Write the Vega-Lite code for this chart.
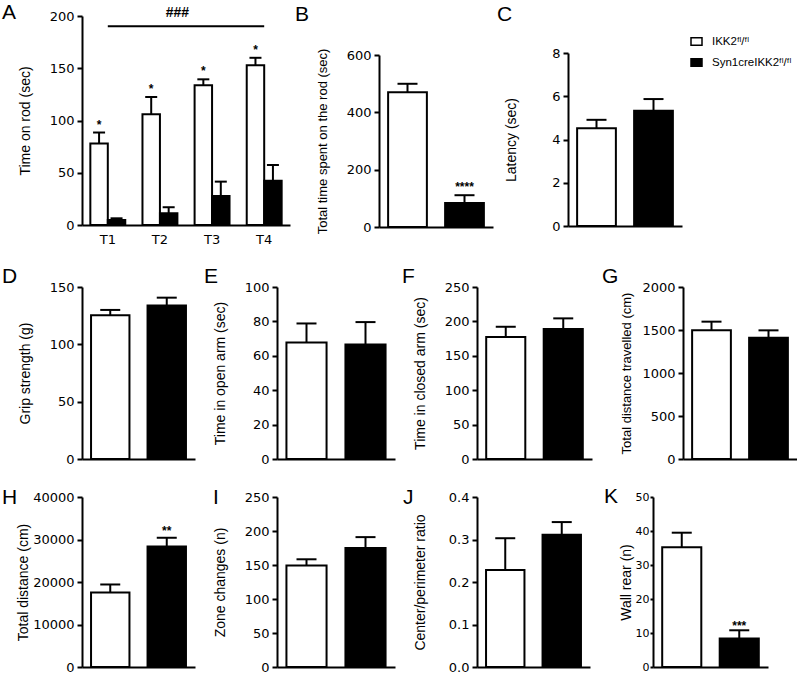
{
  "$schema": "https://vega.github.io/schema/vega-lite/v6.json",
  "background": "white",
  "padding": {"left": 2, "top": 2, "right": 0, "bottom": 0},
  "config": {
    "font": "Liberation Sans",
    "view": {"stroke": null},
    "axis": {"domainColor": "black", "domainWidth": 2, "tickColor": "black", "tickWidth": 2, "tickSize": 5, "tickCount": 20, "labelFont": "DejaVu Sans", "labelFontSize": 13, "labelColor": "black", "labelPadding": 3, "labelOverlap": false, "titleFont": "Liberation Sans", "titleFontSize": 14, "titleFontWeight": "normal", "titleColor": "black", "grid": false},
    "axisY": {"minExtent": 47, "maxExtent": 47, "titlePadding": 3},
    "axisX": {"labels": false, "ticks": false, "title": null},
    "title": {"font": "Liberation Sans", "fontSize": 21, "fontWeight": "normal", "anchor": "start", "frame": "bounds", "baseline": "alphabetic", "color": "black"}
  },
  "datasets": {
    "A": [
      {"t": "T1", "g": "IKK2ᶠˡ/ᶠˡ", "m": 78, "hi": 88.5, "s": "*"},
      {"t": "T1", "g": "Syn1creIKK2ᶠˡ/ᶠˡ", "m": 4.8, "hi": 6.4, "s": ""},
      {"t": "T2", "g": "IKK2ᶠˡ/ᶠˡ", "m": 106, "hi": 122.5, "s": "*"},
      {"t": "T2", "g": "Syn1creIKK2ᶠˡ/ᶠˡ", "m": 11.2, "hi": 17, "s": ""},
      {"t": "T3", "g": "IKK2ᶠˡ/ᶠˡ", "m": 133.7, "hi": 139.4, "s": "*"},
      {"t": "T3", "g": "Syn1creIKK2ᶠˡ/ᶠˡ", "m": 27.8, "hi": 41.5, "s": ""},
      {"t": "T4", "g": "IKK2ᶠˡ/ᶠˡ", "m": 152.8, "hi": 160, "s": "*"},
      {"t": "T4", "g": "Syn1creIKK2ᶠˡ/ᶠˡ", "m": 42.4, "hi": 57.4, "s": ""}
    ],
    "Ann": [{"a": "T1", "b": "T4", "c": "T2", "v": 190.3, "v2": 202.6, "lab": "###"}],
    "B": [{"g": "IKK2ᶠˡ/ᶠˡ", "m": 470.4, "hi": 499.6, "s": ""}, {"g": "Syn1creIKK2ᶠˡ/ᶠˡ", "m": 84, "hi": 110.9, "s": "****"}],
    "C": [{"g": "IKK2ᶠˡ/ᶠˡ", "m": 4.52, "hi": 4.91}, {"g": "Syn1creIKK2ᶠˡ/ᶠˡ", "m": 5.33, "hi": 5.87}],
    "D": [{"g": "IKK2ᶠˡ/ᶠˡ", "m": 125.4, "hi": 130}, {"g": "Syn1creIKK2ᶠˡ/ᶠˡ", "m": 133.8, "hi": 140.7}],
    "E": [{"g": "IKK2ᶠˡ/ᶠˡ", "m": 67.8, "hi": 78.8}, {"g": "Syn1creIKK2ᶠˡ/ᶠˡ", "m": 66.6, "hi": 79.6}],
    "F": [{"g": "IKK2ᶠˡ/ᶠˡ", "m": 177.2, "hi": 192.2}, {"g": "Syn1creIKK2ᶠˡ/ᶠˡ", "m": 188.8, "hi": 204.4}],
    "G": [{"g": "IKK2ᶠˡ/ᶠˡ", "m": 1496, "hi": 1597}, {"g": "Syn1creIKK2ᶠˡ/ᶠˡ", "m": 1411, "hi": 1496}],
    "H": [{"g": "IKK2ᶠˡ/ᶠˡ", "m": 17544, "hi": 19415, "s": ""}, {"g": "Syn1creIKK2ᶠˡ/ᶠˡ", "m": 28382, "hi": 30409, "s": "**"}],
    "I": [{"g": "IKK2ᶠˡ/ᶠˡ", "m": 149.1, "hi": 158.4}, {"g": "Syn1creIKK2ᶠˡ/ᶠˡ", "m": 175, "hi": 191}],
    "J": [{"g": "IKK2ᶠˡ/ᶠˡ", "m": 0.228, "hi": 0.303}, {"g": "Syn1creIKK2ᶠˡ/ᶠˡ", "m": 0.311, "hi": 0.341}],
    "K": [{"g": "IKK2ᶠˡ/ᶠˡ", "m": 35.2, "hi": 39.5, "s": ""}, {"g": "Syn1creIKK2ᶠˡ/ᶠˡ", "m": 8.4, "hi": 10.8, "s": "***"}]
  },
  "resolve": {"scale": {"x": "independent", "y": "independent", "fill": "independent"}, "legend": {"fill": "independent"}},
  "spacing": 19,
  "vconcat": [
    {
      "spacing": 89,
      "bounds": "flush",
      "resolve": {"scale": {"x": "independent", "y": "independent", "fill": "independent"}, "legend": {"fill": "independent"}},
      "hconcat": [
        {
          "width": 208, "height": 209,
          "title": {"text": "A", "dx": -16, "offset": -17},
          "layer": [
            {"data": {"name": "A"}, "mark": {"type": "bar", "stroke": "black", "strokeWidth": 2},
             "encoding": {
               "x": {"field": "t", "type": "nominal", "scale": {"paddingInner": 0.33, "paddingOuter": 0.16}, "axis": {"labels": true, "labelAngle": 0, "labelPadding": 8, "title": null, "ticks": false}},
               "xOffset": {"field": "g", "type": "nominal", "sort": ["IKK2ᶠˡ/ᶠˡ", "Syn1creIKK2ᶠˡ/ᶠˡ"], "scale": {"paddingInner": 0, "paddingOuter": 0}},
               "y": {"field": "m", "type": "quantitative", "scale": {"domain": [0, 200], "nice": false}, "axis": {"title": "Time on rod (sec)", "format": "d", "values": [0, 50, 100, 150, 200]}},
               "fill": {"field": "g", "type": "nominal", "scale": {"domain": ["IKK2ᶠˡ/ᶠˡ", "Syn1creIKK2ᶠˡ/ᶠˡ"], "range": ["white", "black"]}, "legend": null}
             }},
            {"data": {"name": "A"}, "mark": {"type": "rule", "strokeWidth": 2, "color": "black"},
             "encoding": {
               "x": {"field": "t", "type": "nominal"},
               "xOffset": {"field": "g", "type": "nominal", "sort": ["IKK2ᶠˡ/ᶠˡ", "Syn1creIKK2ᶠˡ/ᶠˡ"]},
               "y": {"field": "m", "type": "quantitative"}, "y2": {"field": "hi"}
             }},
            {"data": {"name": "A"}, "mark": {"type": "tick", "thickness": 2, "size": 12, "color": "black", "opacity": 1},
             "encoding": {
               "x": {"field": "t", "type": "nominal"},
               "xOffset": {"field": "g", "type": "nominal", "sort": ["IKK2ᶠˡ/ᶠˡ", "Syn1creIKK2ᶠˡ/ᶠˡ"]},
               "y": {"field": "hi", "type": "quantitative"}
             }},
            {"data": {"name": "A"}, "mark": {"type": "text", "dy": -4, "fontSize": 12, "fontWeight": "bold", "baseline": "alphabetic", "color": "black"},
             "encoding": {
               "x": {"field": "t", "type": "nominal"},
               "xOffset": {"field": "g", "type": "nominal", "sort": ["IKK2ᶠˡ/ᶠˡ", "Syn1creIKK2ᶠˡ/ᶠˡ"]},
               "y": {"field": "hi", "type": "quantitative"},
               "text": {"field": "s"}
             }},
            {"data": {"name": "Ann"}, "mark": {"type": "rule", "strokeWidth": 2, "color": "black"},
             "encoding": {
               "x": {"field": "a", "type": "nominal"}, "x2": {"field": "b"},
               "y": {"field": "v", "type": "quantitative"}
             }},
            {"data": {"name": "Ann"}, "mark": {"type": "text", "fontSize": 14, "fontWeight": "bold", "baseline": "middle", "color": "black"},
             "encoding": {
               "x": {"field": "c", "type": "nominal", "bandPosition": 1},
               "y": {"field": "v2", "type": "quantitative"},
               "text": {"field": "lab"}
             }}
          ]
        },
        {
          "width": 100, "height": 211,
          "title": {"text": "B", "dx": -21, "offset": -9},
          "data": {"name": "B"},
          "encoding": {"x": {"field": "g", "type": "nominal", "sort": ["IKK2ᶠˡ/ᶠˡ", "Syn1creIKK2ᶠˡ/ᶠˡ"], "scale": {"range": [0, 114], "paddingInner": 0.32, "paddingOuter": 0.16}}},
          "layer": [
            {"mark": {"type": "bar", "stroke": "black", "strokeWidth": 2},
             "encoding": {
               "y": {"field": "m", "type": "quantitative", "scale": {"domain": [0, 600], "nice": false, "range": [211, 39]}, "axis": {"title": "Total time spent on the rod (sec)", "titleFontSize": 13, "format": "d", "values": [0, 200, 400, 600]}},
               "fill": {"field": "g", "type": "nominal", "scale": {"domain": ["IKK2ᶠˡ/ᶠˡ", "Syn1creIKK2ᶠˡ/ᶠˡ"], "range": ["white", "black"]}, "legend": null}
             }},
            {"mark": {"type": "rule", "strokeWidth": 2, "color": "black"}, "encoding": {"y": {"field": "m", "type": "quantitative"}, "y2": {"field": "hi"}}},
            {"mark": {"type": "tick", "thickness": 2, "size": 20, "color": "black", "opacity": 1}, "encoding": {"y": {"field": "hi", "type": "quantitative"}}},
            {"mark": {"type": "text", "dy": -4, "fontSize": 12, "fontWeight": "bold", "baseline": "alphabetic", "color": "black"}, "encoding": {"y": {"field": "hi", "type": "quantitative"}, "text": {"field": "s"}}}
          ]
        },
        {
          "width": 114, "height": 210,
          "title": {"text": "C", "dx": -7, "offset": -9},
          "data": {"name": "C"},
          "encoding": {"x": {"field": "g", "type": "nominal", "sort": ["IKK2ᶠˡ/ᶠˡ", "Syn1creIKK2ᶠˡ/ᶠˡ"], "scale": {"paddingInner": 0.32, "paddingOuter": 0.16}}},
          "layer": [
            {"mark": {"type": "bar", "stroke": "black", "strokeWidth": 2},
             "encoding": {
               "y": {"field": "m", "type": "quantitative", "scale": {"domain": [0, 8], "nice": false, "range": [210, 37]}, "axis": {"title": "Latency (sec)", "format": "d", "values": [0, 2, 4, 6, 8]}},
               "fill": {"field": "g", "type": "nominal", "scale": {"domain": ["IKK2ᶠˡ/ᶠˡ", "Syn1creIKK2ᶠˡ/ᶠˡ"], "range": ["white", "black"]},
                        "legend": {"orient": "none", "legendX": 122, "legendY": 19, "direction": "vertical", "title": null, "padding": 0, "symbolType": "M-1,-0.7H1V0.7H-1Z", "symbolSize": 121, "symbolStrokeColor": "black", "symbolStrokeWidth": 1.5, "labelFont": "Liberation Sans", "labelFontSize": 11.5, "labelColor": "black", "rowPadding": 6, "labelOffset": 9}}
             }},
            {"mark": {"type": "rule", "strokeWidth": 2, "color": "black"}, "encoding": {"y": {"field": "m", "type": "quantitative"}, "y2": {"field": "hi"}}},
            {"mark": {"type": "tick", "thickness": 2, "size": 20, "color": "black", "opacity": 1}, "encoding": {"y": {"field": "hi", "type": "quantitative"}}}
          ]
        }
      ]
    },
    {
      "spacing": 20,
      "resolve": {"scale": {"x": "independent", "y": "independent", "fill": "independent"}, "legend": {"fill": "independent"}},
      "vconcat": [
        {
          "spacing": 82,
          "bounds": "flush",
          "resolve": {"scale": {"x": "independent", "y": "independent", "fill": "independent"}, "legend": {"fill": "independent"}},
          "hconcat": [
            {
              "width": 113, "height": 172,
              "title": {"text": "D", "dx": -16, "offset": -5.5},
              "data": {"name": "D"},
              "encoding": {"x": {"field": "g", "type": "nominal", "sort": ["IKK2ᶠˡ/ᶠˡ", "Syn1creIKK2ᶠˡ/ᶠˡ"], "scale": {"paddingInner": 0.32, "paddingOuter": 0.16}}},
              "layer": [
                {"mark": {"type": "bar", "stroke": "black", "strokeWidth": 2},
                 "encoding": {
                   "y": {"field": "m", "type": "quantitative", "scale": {"domain": [0, 150], "nice": false}, "axis": {"title": "Grip strength (g)", "format": "d", "values": [0, 50, 100, 150]}},
                   "fill": {"field": "g", "type": "nominal", "scale": {"domain": ["IKK2ᶠˡ/ᶠˡ", "Syn1creIKK2ᶠˡ/ᶠˡ"], "range": ["white", "black"]}, "legend": null}
                 }},
                {"mark": {"type": "rule", "strokeWidth": 2, "color": "black"}, "encoding": {"y": {"field": "m", "type": "quantitative"}, "y2": {"field": "hi"}}},
                {"mark": {"type": "tick", "thickness": 2, "size": 20, "color": "black", "opacity": 1}, "encoding": {"y": {"field": "hi", "type": "quantitative"}}}
              ]
            },
            {
              "width": 118, "height": 172,
              "title": {"text": "E", "dx": -9, "offset": -5.5},
              "data": {"name": "E"},
              "encoding": {"x": {"field": "g", "type": "nominal", "sort": ["IKK2ᶠˡ/ᶠˡ", "Syn1creIKK2ᶠˡ/ᶠˡ"], "scale": {"paddingInner": 0.32, "paddingOuter": 0.16}}},
              "layer": [
                {"mark": {"type": "bar", "stroke": "black", "strokeWidth": 2},
                 "encoding": {
                   "y": {"field": "m", "type": "quantitative", "scale": {"domain": [0, 100], "nice": false}, "axis": {"title": "Time in open arm (sec)", "format": "d", "values": [0, 20, 40, 60, 80, 100]}},
                   "fill": {"field": "g", "type": "nominal", "scale": {"domain": ["IKK2ᶠˡ/ᶠˡ", "Syn1creIKK2ᶠˡ/ᶠˡ"], "range": ["white", "black"]}, "legend": null}
                 }},
                {"mark": {"type": "rule", "strokeWidth": 2, "color": "black"}, "encoding": {"y": {"field": "m", "type": "quantitative"}, "y2": {"field": "hi"}}},
                {"mark": {"type": "tick", "thickness": 2, "size": 20, "color": "black", "opacity": 1}, "encoding": {"y": {"field": "hi", "type": "quantitative"}}}
              ]
            },
            {
              "width": 124, "height": 172,
              "title": {"text": "F", "dx": -11, "offset": -5.5},
              "data": {"name": "F"},
              "encoding": {"x": {"field": "g", "type": "nominal", "sort": ["IKK2ᶠˡ/ᶠˡ", "Syn1creIKK2ᶠˡ/ᶠˡ"], "scale": {"range": [0, 115], "paddingInner": 0.32, "paddingOuter": 0.16}}},
              "layer": [
                {"mark": {"type": "bar", "stroke": "black", "strokeWidth": 2},
                 "encoding": {
                   "y": {"field": "m", "type": "quantitative", "scale": {"domain": [0, 250], "nice": false}, "axis": {"title": "Time in closed arm (sec)", "format": "d", "values": [0, 50, 100, 150, 200, 250]}},
                   "fill": {"field": "g", "type": "nominal", "scale": {"domain": ["IKK2ᶠˡ/ᶠˡ", "Syn1creIKK2ᶠˡ/ᶠˡ"], "range": ["white", "black"]}, "legend": null}
                 }},
                {"mark": {"type": "rule", "strokeWidth": 2, "color": "black"}, "encoding": {"y": {"field": "m", "type": "quantitative"}, "y2": {"field": "hi"}}},
                {"mark": {"type": "tick", "thickness": 2, "size": 20, "color": "black", "opacity": 1}, "encoding": {"y": {"field": "hi", "type": "quantitative"}}}
              ]
            },
            {
              "width": 114, "height": 172,
              "title": {"text": "G", "dx": -18, "offset": -5.5},
              "data": {"name": "G"},
              "encoding": {"x": {"field": "g", "type": "nominal", "sort": ["IKK2ᶠˡ/ᶠˡ", "Syn1creIKK2ᶠˡ/ᶠˡ"], "scale": {"paddingInner": 0.32, "paddingOuter": 0.16}}},
              "layer": [
                {"mark": {"type": "bar", "stroke": "black", "strokeWidth": 2},
                 "encoding": {
                   "y": {"field": "m", "type": "quantitative", "scale": {"domain": [0, 2000], "nice": false}, "axis": {"title": "Total distance travelled (cm)", "titleFontSize": 13, "format": "d", "values": [0, 500, 1000, 1500, 2000]}},
                   "fill": {"field": "g", "type": "nominal", "scale": {"domain": ["IKK2ᶠˡ/ᶠˡ", "Syn1creIKK2ᶠˡ/ᶠˡ"], "range": ["white", "black"]}, "legend": null}
                 }},
                {"mark": {"type": "rule", "strokeWidth": 2, "color": "black"}, "encoding": {"y": {"field": "m", "type": "quantitative"}, "y2": {"field": "hi"}}},
                {"mark": {"type": "tick", "thickness": 2, "size": 20, "color": "black", "opacity": 1}, "encoding": {"y": {"field": "hi", "type": "quantitative"}}}
              ]
            }
          ]
        },
        {
          "spacing": 82,
          "bounds": "flush",
          "resolve": {"scale": {"x": "independent", "y": "independent", "fill": "independent"}, "legend": {"fill": "independent"}},
          "hconcat": [
            {
              "width": 113, "height": 170,
              "title": {"text": "H", "dx": -14, "offset": -16.5},
              "data": {"name": "H"},
              "encoding": {"x": {"field": "g", "type": "nominal", "sort": ["IKK2ᶠˡ/ᶠˡ", "Syn1creIKK2ᶠˡ/ᶠˡ"], "scale": {"paddingInner": 0.32, "paddingOuter": 0.16}}},
              "layer": [
                {"mark": {"type": "bar", "stroke": "black", "strokeWidth": 2},
                 "encoding": {
                   "y": {"field": "m", "type": "quantitative", "scale": {"domain": [0, 40000], "nice": false}, "axis": {"title": "Total distance (cm)", "format": "d", "values": [0, 10000, 20000, 30000, 40000], "minExtent": 50, "maxExtent": 50, "titlePadding": 2}},
                   "fill": {"field": "g", "type": "nominal", "scale": {"domain": ["IKK2ᶠˡ/ᶠˡ", "Syn1creIKK2ᶠˡ/ᶠˡ"], "range": ["white", "black"]}, "legend": null}
                 }},
                {"mark": {"type": "rule", "strokeWidth": 2, "color": "black"}, "encoding": {"y": {"field": "m", "type": "quantitative"}, "y2": {"field": "hi"}}},
                {"mark": {"type": "tick", "thickness": 2, "size": 20, "color": "black", "opacity": 1}, "encoding": {"y": {"field": "hi", "type": "quantitative"}}},
                {"mark": {"type": "text", "dy": -3, "fontSize": 12, "fontWeight": "bold", "baseline": "alphabetic", "color": "black"}, "encoding": {"y": {"field": "hi", "type": "quantitative"}, "text": {"field": "s"}}}
              ]
            },
            {
              "width": 118, "height": 170,
              "title": {"text": "I", "dx": 0, "offset": -16.5},
              "data": {"name": "I"},
              "encoding": {"x": {"field": "g", "type": "nominal", "sort": ["IKK2ᶠˡ/ᶠˡ", "Syn1creIKK2ᶠˡ/ᶠˡ"], "scale": {"paddingInner": 0.32, "paddingOuter": 0.16}}},
              "layer": [
                {"mark": {"type": "bar", "stroke": "black", "strokeWidth": 2},
                 "encoding": {
                   "y": {"field": "m", "type": "quantitative", "scale": {"domain": [0, 250], "nice": false}, "axis": {"title": "Zone changes (n)", "format": "d", "values": [0, 50, 100, 150, 200, 250]}},
                   "fill": {"field": "g", "type": "nominal", "scale": {"domain": ["IKK2ᶠˡ/ᶠˡ", "Syn1creIKK2ᶠˡ/ᶠˡ"], "range": ["white", "black"]}, "legend": null}
                 }},
                {"mark": {"type": "rule", "strokeWidth": 2, "color": "black"}, "encoding": {"y": {"field": "m", "type": "quantitative"}, "y2": {"field": "hi"}}},
                {"mark": {"type": "tick", "thickness": 2, "size": 20, "color": "black", "opacity": 1}, "encoding": {"y": {"field": "hi", "type": "quantitative"}}}
              ]
            },
            {
              "width": 94, "height": 170,
              "title": {"text": "J", "dx": -10, "offset": -16.5},
              "data": {"name": "J"},
              "encoding": {"x": {"field": "g", "type": "nominal", "sort": ["IKK2ᶠˡ/ᶠˡ", "Syn1creIKK2ᶠˡ/ᶠˡ"], "scale": {"range": [0, 113], "paddingInner": 0.32, "paddingOuter": 0.16}}},
              "layer": [
                {"mark": {"type": "bar", "stroke": "black", "strokeWidth": 2},
                 "encoding": {
                   "y": {"field": "m", "type": "quantitative", "scale": {"domain": [0, 0.4], "nice": false}, "axis": {"title": "Center/perimeter ratio", "format": ".1f", "values": [0, 0.1, 0.2, 0.3, 0.4]}},
                   "fill": {"field": "g", "type": "nominal", "scale": {"domain": ["IKK2ᶠˡ/ᶠˡ", "Syn1creIKK2ᶠˡ/ᶠˡ"], "range": ["white", "black"]}, "legend": null}
                 }},
                {"mark": {"type": "rule", "strokeWidth": 2, "color": "black"}, "encoding": {"y": {"field": "m", "type": "quantitative"}, "y2": {"field": "hi"}}},
                {"mark": {"type": "tick", "thickness": 2, "size": 20, "color": "black", "opacity": 1}, "encoding": {"y": {"field": "hi", "type": "quantitative"}}}
              ]
            },
            {
              "width": 115, "height": 170,
              "title": {"text": "K", "dx": -15, "offset": -16},
              "data": {"name": "K"},
              "encoding": {"x": {"field": "g", "type": "nominal", "sort": ["IKK2ᶠˡ/ᶠˡ", "Syn1creIKK2ᶠˡ/ᶠˡ"], "scale": {"paddingInner": 0.32, "paddingOuter": 0.16}}},
              "layer": [
                {"mark": {"type": "bar", "stroke": "black", "strokeWidth": 2},
                 "encoding": {
                   "y": {"field": "m", "type": "quantitative", "scale": {"domain": [0, 50], "nice": false}, "axis": {"title": "Wall rear (n)", "format": "d", "values": [0, 10, 20, 30, 40, 50], "minExtent": 17, "maxExtent": 17, "labelFontSize": 11, "tickSize": 3, "labelPadding": 1, "titlePadding": 3}},
                   "fill": {"field": "g", "type": "nominal", "scale": {"domain": ["IKK2ᶠˡ/ᶠˡ", "Syn1creIKK2ᶠˡ/ᶠˡ"], "range": ["white", "black"]}, "legend": null}
                 }},
                {"mark": {"type": "rule", "strokeWidth": 2, "color": "black"}, "encoding": {"y": {"field": "m", "type": "quantitative"}, "y2": {"field": "hi"}}},
                {"mark": {"type": "tick", "thickness": 2, "size": 20, "color": "black", "opacity": 1}, "encoding": {"y": {"field": "hi", "type": "quantitative"}}},
                {"mark": {"type": "text", "dy": 0, "fontSize": 12, "fontWeight": "bold", "baseline": "alphabetic", "color": "black"}, "encoding": {"y": {"field": "hi", "type": "quantitative"}, "text": {"field": "s"}}}
              ]
            }
          ]
        }
      ]
    }
  ]
}
